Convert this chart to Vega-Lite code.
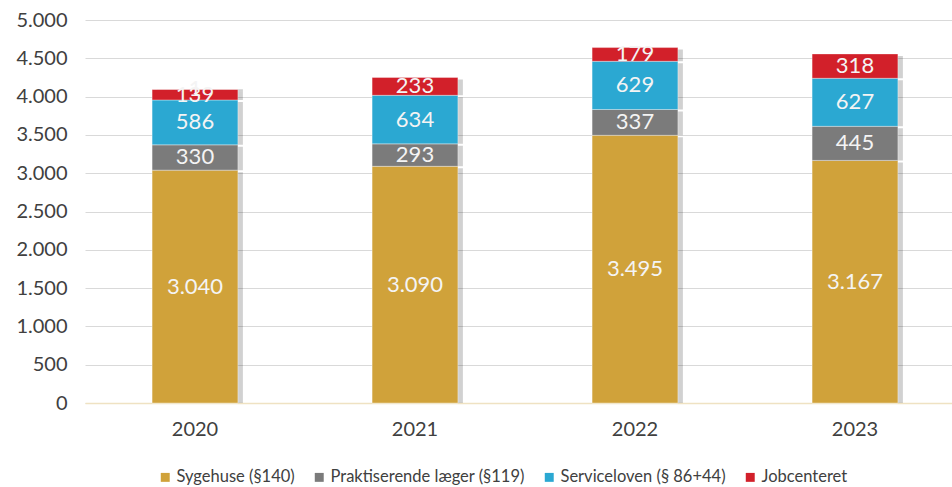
{
  "$schema": "https://vega.github.io/schema/vega-lite/v6.json",
  "autosize": "none",
  "width": 880,
  "height": 383,
  "padding": {"left": 85, "top": 20, "right": 0, "bottom": 84},
  "background": "white",
  "config": {
    "view": {"stroke": null},
    "font": "Lato",
    "locale": {"number": {"decimal": ",", "thousands": ".", "grouping": [3], "currency": ["", " kr."]}}
  },
  "data": {
    "values": [
      {"year": "2020", "series": "Sygehuse (§140)", "order": 1, "value": 3040},
      {"year": "2020", "series": "Praktiserende læger (§119)", "order": 2, "value": 330},
      {"year": "2020", "series": "Serviceloven (§ 86+44)", "order": 3, "value": 586},
      {"year": "2020", "series": "Jobcenteret", "order": 4, "value": 139},
      {"year": "2020", "series": "Andet", "order": 5, "value": 1},
      {"year": "2021", "series": "Sygehuse (§140)", "order": 1, "value": 3090},
      {"year": "2021", "series": "Praktiserende læger (§119)", "order": 2, "value": 293},
      {"year": "2021", "series": "Serviceloven (§ 86+44)", "order": 3, "value": 634},
      {"year": "2021", "series": "Jobcenteret", "order": 4, "value": 233},
      {"year": "2022", "series": "Sygehuse (§140)", "order": 1, "value": 3495},
      {"year": "2022", "series": "Praktiserende læger (§119)", "order": 2, "value": 337},
      {"year": "2022", "series": "Serviceloven (§ 86+44)", "order": 3, "value": 629},
      {"year": "2022", "series": "Jobcenteret", "order": 4, "value": 179},
      {"year": "2023", "series": "Sygehuse (§140)", "order": 1, "value": 3167},
      {"year": "2023", "series": "Praktiserende læger (§119)", "order": 2, "value": 445},
      {"year": "2023", "series": "Serviceloven (§ 86+44)", "order": 3, "value": 627},
      {"year": "2023", "series": "Jobcenteret", "order": 4, "value": 318}
    ]
  },
  "transform": [
    {"stack": "value", "groupby": ["year"], "sort": [{"field": "order"}], "as": ["y0", "y1"]},
    {"calculate": "(datum.y0 + datum.y1) / 2", "as": "mid"}
  ],
  "encoding": {
    "x": {
      "field": "year", "type": "nominal", "title": null,
      "scale": {"paddingInner": 0.61, "paddingOuter": 0.305},
      "axis": {"labelAngle": 0, "labelFontSize": 20, "labelColor": "#404040", "labelPadding": 16, "ticks": false, "domainColor": "#EFE2C2", "domainWidth": 1.5}
    },
    "y": {
      "field": "y1", "type": "quantitative", "title": null,
      "scale": {"domain": [0, 5000]},
      "axis": {"values": [0, 500, 1000, 1500, 2000, 2500, 3000, 3500, 4000, 4500, 5000], "format": ",d", "labelOverlap": false, "labelFontSize": 20, "labelColor": "#404040", "labelPadding": 18, "ticks": false, "domain": false, "gridColor": "#D9D9D9"}
    }
  },
  "layer": [
    {
      "mark": {"type": "bar", "color": "#000000", "opacity": 0.18, "xOffset": 5, "yOffset": 2},
      "encoding": {
        "y2": {"field": "y0"}
      }
    },
    {
      "mark": {"type": "bar", "stroke": "#ffffff", "strokeOpacity": 0.35, "strokeWidth": 1},
      "encoding": {
        "y2": {"field": "y0"},
        "color": {
          "field": "series", "type": "nominal", "title": null,
          "scale": {
            "domain": ["Sygehuse (§140)", "Praktiserende læger (§119)", "Serviceloven (§ 86+44)", "Jobcenteret", "Andet"],
            "range": ["#D0A23A", "#7B7B7B", "#2BA8D2", "#D2202A", "#8BC34A"]
          },
          "legend": {
            "values": ["Sygehuse (§140)", "Praktiserende læger (§119)", "Serviceloven (§ 86+44)", "Jobcenteret"],
            "orient": "none", "legendX": 72, "legendY": 449, "direction": "horizontal", "symbolType": "square", "symbolSize": 80,
            "symbolStrokeWidth": 0, "labelFontSize": 16.5, "labelLimit": 0, "labelColor": "#404040", "labelOffset": 3, "columnPadding": 16, "symbolOffset": 0
          }
        }
      }
    },
    {
      "mark": {"type": "text", "color": "#F4F4F4", "fontSize": 22, "baseline": "middle"},
      "encoding": {
        "y": {"field": "mid", "type": "quantitative"},
        "text": {"field": "value", "type": "quantitative", "format": ",d"}
      }
    }
  ]
}
